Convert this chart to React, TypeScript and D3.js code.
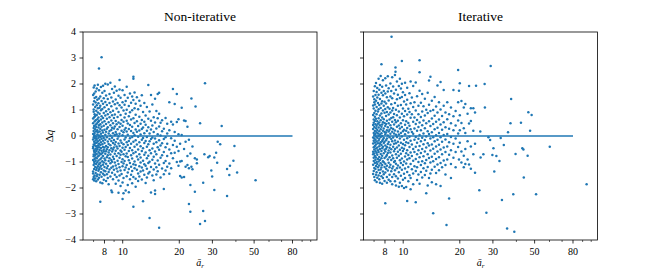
import React from "react";
import * as d3 from "d3";

const W = 664;
const H = 270;
const xDomain: [number, number] = [6.15, 108];
const yDomain: [number, number] = [-4, 4];
const yTicks = [-4, -3, -2, -1, 0, 1, 2, 3, 4];
const xMajor = [8, 10, 20, 30, 50, 80];
const xMinor = [7, 9, 40, 60, 70, 90, 100];
const titles = ["Non-iterative", "Iterative"];
const lineStartX = [6.96, 6.92];
const lineEndX = 80;

// Non-iterative: columns of [a_r, list of Δq]
const nonIterCols: [number, number[]][] = [
  [6.96, [1.58, 1.21, 0.67, 0.49, 0.08, -0.13, -0.41, -0.47, -0.92, -1.37, -1.44, -1.66]],
  [7.01, [1.87, 1.02, 0.93, 0.31, 0.19, -0.06, -0.33, -0.71, -0.78, -1.12, -1.58]],
  [7.05, [1.63, 1.34, 0.72, 0.38, -0.02, -0.22, -0.55, -0.61, -0.99, -1.27, -1.71]],
  [7.09, [1.94, 1.46, 0.84, 0.56, 0.12, 0.03, -0.36, -0.88, -1.05, -1.52]],
  [7.14, [1.12, 0.77, 0.26, -0.09, -0.28, -0.64, -0.73, -1.19, -1.63]],
  [7.18, [1.71, 1.29, 0.61, 0.43, -0.17, -0.49, -0.83, -0.95, -1.42]],
  [7.23, [1.5, 0.97, 0.35, 0.18, -0.03, -0.39, -0.58, -1.08, -1.31, -1.74]],
  [7.28, [1.83, 1.18, 0.81, 0.47, -0.12, -0.26, -0.69, -0.86, -1.23, -1.55]],
  [7.33, [1.39, 0.64, 0.22, 0.06, -0.45, -0.52, -1.01, -1.48]],
  [7.38, [1.97, 1.07, 0.9, 0.53, 0.14, -0.2, -0.37, -0.79, -1.16, -1.67]],
  [7.43, [1.26, 0.71, 0.33, -0.07, -0.62, -0.94, -1.34]],
  [7.48, [2.6, 1.76, 1.44, 0.58, 0.41, 0.02, -0.3, -0.43, -0.75, -1.09, -1.28, -1.61]],
  [7.54, [1.09, 0.86, 0.17, -0.15, -0.54, -0.66, -1.21, -1.49]],
  [7.6, [1.52, 1.16, 0.45, 0.27, -0.04, -0.35, -0.89, -1.03, -1.79, -2.53]],
  [7.66, [1.88, 0.99, 0.63, 0.09, -0.24, -0.46, -0.7, -1.14, -1.39]],
  [7.72, [3.03, 1.35, 0.76, 0.36, -0.11, -0.57, -0.84, -1.26, -1.57]],
  [7.79, [1.66, 1.04, 0.52, 0.21, -0.01, -0.32, -0.65, -0.97, -1.82]],
  [7.86, [1.93, 1.24, 0.69, 0.13, -0.18, -0.42, -0.77, -1.11, -1.45]],
  [7.93, [1.45, 0.88, 0.39, -0.08, -0.53, -0.6, -1.02, -1.33, -1.68]],
  [8.0, [1.73, 1.11, 0.57, 0.24, -0.27, -0.44, -0.87, -1.19, -1.51]],
  [8.08, [2.01, 1.31, 0.79, 0.05, -0.14, -0.68, -0.93, -1.36]],
  [8.16, [1.56, 0.95, 0.46, 0.16, -0.38, -0.59, -1.07, -1.73]],
  [8.24, [1.19, 0.66, 0.28, -0.05, -0.51, -0.82, -1.24, -1.47]],
  [8.33, [1.98, 1.42, 0.84, 0.34, -0.21, -0.43, -0.74, -1.15, -1.62]],
  [8.42, [1.03, 0.53, 0.1, -0.31, -0.63, -0.96, -1.38, -1.86]],
  [8.51, [1.62, 1.27, 0.72, 0.19, -0.12, -0.55, -0.86, -1.29]],
  [8.6, [2.05, 0.91, 0.41, 0.02, -0.36, -0.71, -1.05, -1.56]],
  [8.7, [1.48, 1.14, 0.6, 0.23, -0.19, -0.47, -0.92, -1.22, -2.1]],
  [8.78, [1.81, 0.8, 0.32, -0.07, -0.6, -0.99, -1.41, -2.16]],
  [8.88, [1.33, 0.97, 0.49, 0.11, -0.27, -0.52, -0.8, -1.17, -1.66]],
  [8.98, [1.66, 0.69, 0.29, -0.15, -0.44, -0.88, -1.3]],
  [9.08, [1.9, 1.22, 0.83, 0.37, 0.04, -0.33, -0.68, -1.02, -1.49]],
  [9.18, [1.4, 0.58, 0.15, -0.23, -0.57, -1.13, -1.84]],
  [9.28, [1.74, 1.06, 0.45, 0.07, -0.4, -0.77, -1.25, -1.58]],
  [9.39, [1.27, 0.73, 0.26, -0.11, -0.48, -0.95, -1.37]],
  [9.5, [1.55, 0.92, 0.52, -0.02, -0.29, -0.66, -1.08, -1.71, -2.18]],
  [9.62, [2.15, 1.79, 1.18, 0.35, 0.09, -0.38, -0.84, -1.2, -1.52]],
  [9.74, [1.47, 0.81, 0.47, -0.17, -0.56, -0.72, -1.33, -1.92]],
  [9.86, [1.1, 0.62, 0.2, -0.26, -0.61, -1.0, -1.46]],
  [9.98, [1.76, 1.3, 0.39, 0.03, -0.45, -0.89, -1.16, -1.79, -2.42]],
  [10.1, [0.98, 0.55, 0.14, -0.32, -0.7, -1.06, -1.62, -2.2]],
  [10.23, [1.58, 1.2, 0.71, 0.24, -0.13, -0.53, -0.96, -1.31]],
  [10.37, [1.35, 0.86, 0.31, -0.06, -0.42, -0.78, -1.21, -2.1]],
  [10.5, [1.89, 1.01, 0.59, 0.17, -0.24, -0.67, -1.12, -1.55]],
  [10.64, [1.47, 0.48, 0.05, -0.35, -0.81, -1.4, -1.88]],
  [10.78, [1.15, 0.76, 0.27, -0.19, -0.58, -0.93, -1.27, -2.16]],
  [10.93, [1.63, 0.91, 0.42, -0.09, -0.46, -1.04, -1.66]],
  [11.08, [1.28, 0.63, 0.19, -0.3, -0.74, -1.18, -1.49]],
  [11.23, [1.52, 0.99, 0.36, -0.04, -0.55, -0.87, -1.35, -1.82]],
  [11.4, [2.28, 2.2, 1.38, 0.68, 0.12, -0.22, -0.66, -1.09, -1.58, -2.72]],
  [11.56, [1.67, 1.07, 0.5, 0.03, -0.41, -0.98, -1.24]],
  [11.72, [1.24, 0.82, 0.25, -0.16, -0.62, -1.12, -1.64, -1.95]],
  [11.9, [1.49, 0.57, 0.16, -0.33, -0.79, -1.3]],
  [12.08, [1.03, 0.38, -0.03, -0.52, -0.9, -1.44, -1.73]],
  [12.26, [1.36, 0.74, 0.21, -0.24, -0.7, -1.16, -1.56]],
  [12.45, [1.16, 0.47, 0.06, -0.39, -0.83, -1.02, -1.37]],
  [12.64, [1.57, 0.62, 0.27, -0.14, -0.58, -1.21, -1.67]],
  [12.83, [0.92, 0.33, -0.08, -0.47, -0.95, -1.33, -2.51]],
  [13.03, [1.27, 0.55, 0.11, -0.27, -0.72, -1.09, -1.49]],
  [13.24, [0.79, 0.43, -0.19, -0.63, -1.14, -1.81]],
  [13.45, [1.12, 0.2, -0.04, -0.41, -0.86, -1.26, -1.6]],
  [13.68, [1.96, 0.66, 0.34, -0.32, -0.76, -1.04, -1.44]],
  [13.9, [0.94, 0.1, -0.2, -0.55, -0.99, -1.38, -3.15]],
  [14.14, [1.58, 0.59, 0.25, -0.12, -0.66, -1.19, -2.17]],
  [14.38, [1.21, 0.4, -0.06, -0.48, -0.91, -1.52]],
  [14.62, [0.72, 0.15, -0.3, -0.8, -1.29, -1.7]],
  [14.86, [1.43, 0.52, -0.1, -0.6, -1.06, -2.1, -2.23]],
  [15.1, [0.96, 0.29, -0.24, -0.7, -1.2, -1.48]],
  [15.35, [1.62, 0.68, 0.07, -0.43, -0.94, -1.36]],
  [15.62, [1.66, 0.86, 0.37, -0.16, -0.53, -1.11, -3.53]],
  [15.9, [0.51, 0.02, -0.37, -0.84, -1.6]],
  [16.2, [0.61, 0.18, -0.28, -0.74, -1.25]],
  [16.55, [0.28, -0.12, -0.62, -1.04, -1.47, -2.04]],
  [16.9, [0.69, -0.05, -0.43, -0.96, -1.33]],
  [17.25, [0.47, 0.1, -0.3, -0.77, -1.18]],
  [17.7, [1.3, 0.22, -0.52, -1.06, -1.45]],
  [18.1, [0.55, -0.09, -0.66, -1.24]],
  [18.5, [1.81, 0.44, -0.35, -0.86]],
  [18.9, [1.23, 0.15, -0.18, -0.64]],
  [19.4, [1.62, 0.54, -0.41, -1.0]],
  [19.8, [0.64, 0.07, -0.58, -1.14]],
  [20.2, [-0.3, -0.98, -1.54]],
  [20.6, [1.09, 0.04, -0.96, -1.6]],
  [21.2, [0.6, -0.5, -1.58]],
  [21.6, [0.58, -0.22, -1.18]],
  [22.1, [0.36, -0.77, -1.12]],
  [22.5, [-0.14, -1.24, -2.62]],
  [22.9, [-0.67, -1.88, -2.91]],
  [23.2, [1.44, -1.18]],
  [23.5, [-0.4, -1.28]],
  [24.2, [-0.86, -2.14]],
  [24.4, [1.13]],
  [24.8, [-0.9, -1.05]],
  [25.8, [0.49, -3.38]],
  [26.8, [-1.8, -2.88]],
  [27.2, [-0.7]],
  [27.4, [2.03, -3.27]],
  [28.5, [-0.82]],
  [29.0, [-0.77]],
  [29.6, [-1.33]],
  [29.9, [-1.56]],
  [30.7, [-0.83, -2.08]],
  [31.4, [-0.64]],
  [31.8, [-1.03]],
  [32.0, [-0.22]],
  [33.0, [-0.32]],
  [33.6, [0.38]],
  [35.9, [-1.27, -2.31]],
  [36.9, [-1.5]],
  [37.2, [-1.14]],
  [38.8, [-0.95]],
  [39.3, [-0.38]],
  [40.6, [-1.4]],
  [50.9, [-1.7]],
];

// Iterative: columns of [a_r, list of Δq]
const iterCols: [number, number[]][] = [
  [6.92, [1.52, 1.17, 0.81, 0.42, 0.27, -0.06, -0.29, -0.61, -0.7, -1.11, -1.46]],
  [6.97, [1.73, 1.06, 0.63, 0.51, 0.12, -0.18, -0.43, -0.84, -0.96, -1.35]],
  [7.02, [1.41, 1.3, 0.88, 0.35, 0.04, -0.1, -0.52, -0.67, -1.23, -1.58]],
  [7.07, [1.91, 1.21, 0.74, 0.58, 0.19, -0.25, -0.38, -0.77, -1.04, -1.7]],
  [7.12, [1.58, 0.97, 0.45, 0.08, -0.14, -0.59, -0.91, -1.27]],
  [7.17, [2.04, 1.36, 0.66, 0.3, -0.02, -0.33, -0.48, -0.83, -1.15, -1.49]],
  [7.22, [1.69, 1.12, 0.84, 0.39, 0.14, -0.21, -0.64, -1.0, -1.39, -1.77]],
  [7.28, [1.85, 1.48, 0.57, 0.23, -0.07, -0.44, -0.72, -1.08, -1.61]],
  [7.34, [1.27, 0.94, 0.47, 0.1, -0.28, -0.55, -0.88, -1.2]],
  [7.4, [2.2, 1.59, 1.03, 0.68, 0.33, 0.01, -0.17, -0.62, -0.98, -1.31, -1.52]],
  [7.46, [1.78, 1.19, 0.52, 0.18, -0.11, -0.39, -0.81, -1.13, -1.66]],
  [7.52, [1.96, 1.42, 0.79, 0.41, 0.06, -0.3, -0.5, -0.92, -1.42, -1.8]],
  [7.59, [2.31, 1.08, 0.61, 0.26, -0.04, -0.24, -0.69, -1.05, -1.29]],
  [7.66, [2.76, 1.66, 1.25, 0.87, 0.36, 0.11, -0.35, -0.58, -0.86, -1.21, -1.55]],
  [7.73, [1.89, 1.34, 0.71, 0.44, 0.0, -0.19, -0.47, -0.76, -1.12, -1.84]],
  [7.8, [2.14, 1.57, 0.98, 0.53, 0.2, -0.13, -0.41, -0.97, -1.37, -1.62]],
  [7.88, [1.73, 1.16, 0.64, 0.29, -0.08, -0.27, -0.66, -1.01, -1.47]],
  [7.96, [1.32, 0.89, 0.5, 0.15, -0.22, -0.53, -0.85, -1.19, -1.73]],
  [8.03, [2.22, 1.63, 1.04, 0.38, 0.07, -0.37, -0.6, -1.07, -1.4, -2.59]],
  [8.11, [1.94, 1.25, 0.77, 0.46, 0.13, -0.16, -0.49, -0.79, -1.26]],
  [8.19, [1.49, 0.92, 0.59, 0.22, -0.1, -0.42, -0.73, -1.14, -1.58, -1.8]],
  [8.28, [2.3, 1.71, 1.11, 0.34, 0.02, -0.31, -0.65, -0.9, -1.33]],
  [8.37, [1.84, 1.37, 0.83, 0.49, 0.17, -0.23, -0.56, -1.03, -1.68]],
  [8.46, [1.05, 0.63, 0.24, -0.05, -0.45, -0.82, -1.2, -1.49]],
  [8.55, [2.02, 1.52, 0.9, 0.41, 0.09, -0.34, -0.63, -1.11, -1.74]],
  [8.64, [1.73, 1.22, 0.69, 0.31, -0.12, -0.51, -0.92, -1.36]],
  [8.67, [3.82]],
  [8.74, [2.26, 1.45, 0.98, 0.55, 0.16, -0.2, -0.75, -1.25, -1.58, -1.86]],
  [8.84, [1.9, 1.08, 0.72, 0.27, -0.06, -0.41, -0.86, -1.17]],
  [8.94, [1.63, 0.85, 0.44, 0.1, -0.3, -0.59, -1.0, -1.47]],
  [9.04, [2.35, 1.27, 0.62, 0.21, -0.17, -0.5, -0.96, -1.32, -1.74]],
  [9.1, [2.63, 2.47]],
  [9.15, [1.78, 1.01, 0.53, 0.05, -0.28, -0.7, -1.07, -1.55, -1.9]],
  [9.26, [2.1, 1.41, 0.8, 0.36, -0.04, -0.44, -0.84, -1.24]],
  [9.37, [1.59, 1.16, 0.59, 0.17, -0.22, -0.61, -1.13, -1.63]],
  [9.48, [1.92, 0.94, 0.4, 0.06, -0.37, -0.76, -1.39, -1.95]],
  [9.6, [2.2, 1.46, 0.71, 0.29, -0.1, -0.53, -0.93, -1.21, -1.8]],
  [9.72, [1.83, 1.19, 0.49, 0.12, -0.26, -0.68, -1.04, -1.53]],
  [9.84, [2.88, 2.01, 1.5, 0.86, 0.35, -0.02, -0.45, -0.87, -1.3, -1.92]],
  [9.97, [1.68, 1.06, 0.61, 0.18, -0.31, -0.58, -1.12, -1.68]],
  [10.1, [1.33, 0.76, 0.24, -0.14, -0.49, -0.98, -1.45, -2.0]],
  [10.23, [2.05, 1.58, 0.96, 0.43, 0.07, -0.36, -0.79, -1.25, -1.62]],
  [10.37, [1.21, 0.57, 0.2, -0.24, -0.66, -1.06, -1.96]],
  [10.5, [1.86, 1.39, 0.83, 0.31, -0.09, -0.55, -0.9, -1.38, -2.5]],
  [10.65, [1.05, 0.5, 0.13, -0.27, -0.73, -1.19, -1.74]],
  [10.8, [1.64, 0.92, 0.39, -0.03, -0.42, -0.86, -1.51]],
  [10.95, [2.1, 1.26, 0.7, 0.26, -0.18, -0.63, -1.08, -1.62, -2.05]],
  [11.12, [1.48, 0.84, 0.15, -0.33, -0.77, -1.28]],
  [11.3, [1.92, 1.12, 0.55, 0.09, -0.5, -0.95, -1.44, -1.86]],
  [11.48, [1.3, 0.71, 0.29, -0.14, -0.62, -1.16]],
  [11.66, [2.06, 0.98, 0.46, -0.04, -0.41, -0.88, -1.35, -2.55]],
  [11.85, [1.53, 0.62, 0.2, -0.26, -0.7, -1.2, -1.69]],
  [12.05, [1.16, 0.84, 0.35, -0.11, -0.55, -1.0, -1.48]],
  [12.22, [2.91, 2.45, 1.74, 0.52, 0.04, -0.38, -0.82, -1.84]],
  [12.42, [1.28, 0.73, 0.22, -0.2, -0.65, -1.12, -1.38]],
  [12.62, [1.62, 0.94, 0.41, -0.07, -0.5, -0.97, -1.6]],
  [12.82, [1.14, 0.6, 0.1, -0.32, -0.78, -1.24]],
  [13.04, [1.43, 0.79, 0.3, -0.15, -0.6, -1.05, -1.5]],
  [13.26, [1.01, 0.49, -0.02, -0.44, -0.92, -1.34, -2.2]],
  [13.5, [1.66, 0.88, 0.18, -0.28, -0.7, -1.19, -1.9]],
  [13.72, [2.13, 1.2, 0.57, 0.08, -0.37, -0.85, -1.62]],
  [13.96, [2.28, 0.96, 0.38, -0.1, -0.56, -1.02, -1.44]],
  [14.2, [1.36, 0.67, 0.14, -0.33, -0.8, -1.3, -1.78]],
  [14.44, [1.0, 0.46, -0.05, -0.49, -0.97, -2.97]],
  [14.7, [1.5, 0.78, 0.26, -0.2, -0.68, -1.18]],
  [14.96, [1.13, 0.55, 0.03, -0.4, -0.88, -1.42, -1.86]],
  [15.22, [1.94, 0.9, 0.32, -0.14, -0.6, -1.1]],
  [15.5, [1.3, 0.63, 0.12, -0.34, -0.82, -1.32]],
  [15.8, [2.08, 1.02, 0.44, -0.05, -0.52, -1.04, -1.92]],
  [16.1, [0.77, 0.24, -0.22, -0.7, -1.2]],
  [16.42, [1.77, 1.16, 0.53, 0.04, -0.44, -0.94]],
  [16.78, [0.9, 0.34, -0.13, -0.62, -1.12, -1.48]],
  [17.0, [-3.42]],
  [17.15, [1.3, 0.64, 0.08, -0.4, -0.9]],
  [17.55, [0.84, 0.28, -0.24, -0.72, -2.4]],
  [17.95, [1.1, 0.49, -0.04, -0.55, -1.08, -1.62]],
  [18.5, [1.77, 0.76, 0.22, -0.3, -0.84]],
  [19.0, [0.96, 0.4, -0.1, -0.62, -1.2]],
  [19.6, [2.54, 1.3, 0.6, 0.1, -0.42]],
  [19.8, [1.74, -0.9]],
  [20.0, [2.03, 0.8, 0.22, -0.26]],
  [20.4, [1.35, 0.5, -0.6, -1.02]],
  [21.0, [1.1, 0.3, -0.76, -1.2]],
  [21.4, [1.23, 0.12, -0.5, -1.08]],
  [22.0, [0.86, -0.2, -0.9]],
  [22.4, [1.92, 0.48, -1.1]],
  [22.9, [1.07, 0.58, -0.4, -1.26]],
  [23.6, [1.07, 0.2, -0.7]],
  [24.1, [0.9, -0.3, -1.41]],
  [24.4, [1.93]],
  [25.4, [-2.09]],
  [25.7, [0.17]],
  [25.8, [-0.83]],
  [26.7, [-0.7]],
  [27.1, [2.0]],
  [27.2, [1.1]],
  [27.7, [-2.95]],
  [28.4, [-0.05]],
  [29.0, [-0.15]],
  [29.2, [2.69]],
  [29.8, [-0.73]],
  [30.2, [-0.47]],
  [30.5, [-1.37]],
  [31.3, [-0.77]],
  [32.5, [-0.96]],
  [33.0, [-0.08]],
  [33.5, [-2.46]],
  [34.3, [-0.35]],
  [35.7, [-3.56]],
  [36.1, [0.14]],
  [37.2, [0.49]],
  [37.5, [1.42]],
  [38.5, [-2.24]],
  [39.0, [-3.68]],
  [39.6, [-0.69]],
  [42.3, [0.51]],
  [43.0, [-0.47]],
  [43.6, [-0.52]],
  [43.8, [-1.6]],
  [45.9, [-0.76]],
  [46.3, [0.91]],
  [47.3, [0.2]],
  [48.2, [0.81]],
  [50.9, [-2.24]],
  [60.2, [-0.41]],
  [94.5, [-1.86]],
];

const panelCols = [nonIterCols, iterCols];

const PX = [83, 363.5];
const PT = 32;
const PW = 234;
const PH = 208;
const BLUE = "#1f77b4";
const FONT = '"Liberation Serif", "DejaVu Serif", serif';

function fmt(v: number) {
  return v < 0 ? "\u2212" + Math.abs(v) : String(v);
}

function Panel({ idx }: { idx: number }) {
  const x0 = PX[idx];
  const xs = d3.scaleLog().domain(xDomain).range([x0, x0 + PW]);
  const ys = d3.scaleLinear().domain(yDomain).range([PT + PH, PT]);
  const pts = panelCols[idx].flatMap(([x, arr]) => arr.map((y) => [x, y] as [number, number]));
  return (
    <g>
      {pts.map((p, i) => (
        <circle key={i} cx={xs(p[0])} cy={ys(p[1])} r={1.25} fill={BLUE} />
      ))}
      <line
        x1={xs(lineStartX[idx])}
        x2={xs(lineEndX)}
        y1={ys(0)}
        y2={ys(0)}
        stroke={BLUE}
        strokeWidth={1.5}
      />
      <rect x={x0} y={PT} width={PW} height={PH} fill="none" stroke="#000" strokeWidth={0.8} />
      {yTicks.map((t) => (
        <g key={"y" + t}>
          <line x1={x0 - 3.5} x2={x0} y1={ys(t)} y2={ys(t)} stroke="#000" strokeWidth={0.8} />
          {idx === 0 && (
            <text x={x0 - 7} y={ys(t)} dy="0.34em" textAnchor="end" fontSize={10} style={{ fontFamily: FONT }}>
              {fmt(t)}
            </text>
          )}
        </g>
      ))}
      {xMajor.map((t) => (
        <g key={"x" + t}>
          <line x1={xs(t)} x2={xs(t)} y1={PT + PH} y2={PT + PH + 3.5} stroke="#000" strokeWidth={0.8} />
          <text x={xs(t)} y={PT + PH + 15} textAnchor="middle" fontSize={10} style={{ fontFamily: FONT }}>
            {t}
          </text>
        </g>
      ))}
      {xMinor.map((t) => (
        <line key={"m" + t} x1={xs(t)} x2={xs(t)} y1={PT + PH} y2={PT + PH + 2} stroke="#000" strokeWidth={0.6} />
      ))}
      <text x={x0 + PW / 2} y={21} textAnchor="middle" fontSize={13.5} style={{ fontFamily: FONT }}>
        {titles[idx]}
      </text>
      <text x={x0 + PW / 2} y={266} textAnchor="middle" fontSize={10} fontStyle="italic" style={{ fontFamily: FONT }}>
        {"\u0101"}
        <tspan fontSize={7} dy={1.5}>r</tspan>
      </text>
    </g>
  );
}

export default function App() {
  return (
    <svg
      width={W}
      height={H}
      style={{ position: "absolute", left: 0, top: 0, display: "block", background: "#fff" }}
    >
      <Panel idx={0} />
      <Panel idx={1} />
      <text
        transform="translate(53,136) rotate(-90)"
        textAnchor="middle"
        fontSize={11}
        style={{ fontFamily: FONT }}
      >
        {"\u0394"}
        <tspan fontStyle="italic">q</tspan>
      </text>
    </svg>
  );
}
